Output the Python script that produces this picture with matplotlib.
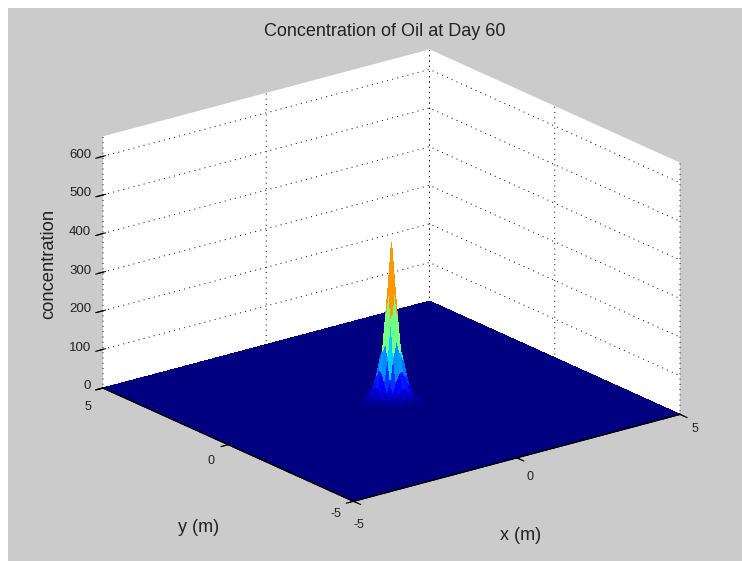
import numpy as np
import matplotlib
matplotlib.use("Agg")
import matplotlib.pyplot as plt
from matplotlib.patches import Rectangle
from matplotlib.transforms import ScaledTranslation
from mpl_toolkits.mplot3d import proj3d

plt.rcParams['font.family'] = ['Liberation Sans', 'DejaVu Sans']
plt.rcParams['axes.unicode_minus'] = False
plt.rcParams['grid.color'] = 'k'
plt.rcParams['grid.linestyle'] = (0, (1, 4.4))
plt.rcParams['grid.linewidth'] = 0.7

title = "Concentration of Oil at Day 60"
x_label = "x (m)"
y_label = "y (m)"
z_label = "concentration"
x_ticks = [-5, 0, 5]
y_ticks = [-5, 0, 5]
z_ticks = [0, 100, 200, 300, 400, 500, 600]
domain = [-5, 5]
z_limits = [0, 650]

# Concentration around the spill; rows y=-0.7..0.7, columns x=-0.7..0.7.
peak_offsets = [-.7, -.6, -.5, -.4, -.3, -.2, -.1, 0, .1, .2, .3, .4, .5, .6, .7]
peak_conc = [
    [0, 0, 0, 0, 0, 0, 0, 0, 0, 0, 0, 0, 0, 0, 0],
    [0, 0, 0, .2, .4, 1, 2, 4, 6, 5, 3, 2, 1, 0, 0],
    [0, 0, .3, 1, 2.5, 6, 10, 15, 20, 15, 10, 7, 5, 1, 0],
    [0, .2, 1, 3, 8, 17, 28, 40, 45, 35, 22, 15, 7, 2, 0],
    [0, .4, 2.5, 8, 18, 36, 62, 80, 85, 68, 45, 22, 10, 3, 0],
    [0, 1, 6, 17, 36, 65, 125, 165, 130, 110, 68, 35, 15, 5, 0],
    [0, 2, 10, 28, 62, 125, 220, 300, 225, 130, 85, 45, 20, 6, 0],
    [0, 4, 15, 40, 80, 165, 300, 412, 300, 165, 80, 40, 15, 4, 0],
    [0, 6, 20, 45, 85, 130, 225, 300, 220, 125, 62, 28, 10, 2, 0],
    [0, 5, 15, 35, 68, 110, 130, 165, 125, 65, 36, 17, 6, 1, 0],
    [0, 3, 10, 22, 45, 68, 85, 80, 62, 36, 18, 8, 2.5, .4, 0],
    [0, 2, 7, 15, 22, 35, 45, 40, 28, 17, 8, 3, 1, .2, 0],
    [0, 1, 5, 7, 10, 15, 20, 15, 10, 6, 2.5, 1, .3, 0, 0],
    [0, 0, 1, 2, 3, 5, 6, 4, 2, 1, .4, .2, 0, 0, 0],
    [0, 0, 0, 0, 0, 0, 0, 0, 0, 0, 0, 0, 0, 0, 0],
]

W, H = 742, 561
fig = plt.figure(figsize=(W / 100, H / 100), dpi=100, facecolor='white')
fig.add_artist(Rectangle((8 / W, 0), 1 - 8 / W, 1 - 8 / H, transform=fig.transFigure,
                         facecolor='#cbcbcb', edgecolor='none', zorder=-5))

grid_axis = np.linspace(domain[0], domain[1], 101)
X, Y = np.meshgrid(grid_axis, grid_axis)
Z = np.zeros_like(X)
i0 = int(np.argmin(np.abs(grid_axis - peak_offsets[0])))
table = np.array(peak_conc, dtype=float)
Z[i0:i0 + table.shape[0], i0:i0 + table.shape[1]] = table

ax = fig.add_axes([0.1, 0.1, 0.8, 0.8], projection='3d', proj_type='ortho')
ax.patch.set_visible(False)
ax.computed_zorder = False
ax.view_init(elev=20.3, azim=-127.5)
ax.set_xlim(*domain, view_margin=0)
ax.set_ylim(*domain, view_margin=0)
ax.set_zlim(*z_limits, view_margin=0)
ASPECT = (411.5, 411.5, 267.6)
ax.set_box_aspect(ASPECT)

surf = ax.plot_surface(X, Y, Z, rstride=1, cstride=1, cmap='jet', vmin=0, vmax=float(Z.max()),
                       linewidth=0, antialiased=False, shade=False, zorder=1)
surf.set_clip_on(False)

# The two front floor edges stay black on top of the surface.
x0, x1 = domain
line_style = dict(color='k', zorder=2, clip_on=False)
ax.plot(domain, [x0, x0], [0, 0], lw=1.0, **line_style)
ax.plot([x0, x0], domain, [0, 0], lw=1.0, **line_style)

# Short outward tick marks, as in the reference.
tick_len_x = 0.22
tick_len_y = 0.28
for t in x_ticks:
    ax.plot([t, t], [x0, x0 - tick_len_y], [0, 0], lw=0.8, **line_style)
for t in y_ticks:
    ax.plot([x0, x0 - tick_len_x], [t, t], [0, 0], lw=0.8, **line_style)
for t in z_ticks:
    ax.plot([x0, x0 - tick_len_x], [x1, x1], [t, t], lw=0.8, **line_style)

ax.set_xticks(x_ticks)
ax.set_yticks(y_ticks)
ax.set_zticks(z_ticks)
ax.tick_params(axis='x', labelsize=9, pad=0, colors='#222222', width=0.8)
ax.tick_params(axis='y', labelsize=9, pad=0, colors='#222222', width=0.8)
ax.tick_params(axis='z', labelsize=9.5, pad=-4, colors='#222222', width=0.8)
# Pixel nudges (right, down) of tick labels, one per tick.
x_nudges = [(-6, 12), (1, 8), (3, 3)]
y_nudges = [(-2, 3), (-2, 6), (0, 9)]
z_nudge = (2, 5)


def nudge_label(tick, ndx, ndy):
    offset = ScaledTranslation(ndx / 100, -ndy / 100, fig.dpi_scale_trans)
    tick.label1.set_transform(ax.transData + offset)
    # Axis3D puts plain transData back on every draw; keep the nudged one.
    tick.label1.set_transform = lambda _t: None


for axis, nudges in ((ax.xaxis, x_nudges), (ax.yaxis, y_nudges), (ax.zaxis, [z_nudge] * len(z_ticks))):
    axis.pane.set_facecolor('white')
    axis.pane.set_edgecolor('white')
    axis.pane.set_alpha(1)
    axis.line.set_color('k')
    axis.line.set_linewidth(0.9)
    for tick, (ndx, ndy) in zip(axis.get_major_ticks(), nudges):
        tick.label1.set_verticalalignment('bottom')
        nudge_label(tick, ndx, ndy)
for tick in ax.zaxis.get_major_ticks():
    tick.label1.set_horizontalalignment('right')
ax.zaxis.line.set_visible(False)

fig.canvas.draw()


def px(x, y, z):
    a, b, _ = proj3d.proj_transform(x, y, z, ax.get_proj())
    return ax.transData.transform((a, b))


# Scale and place the box so the floor corners fall where the reference has them.
left = px(-5, 5, 0)
right = px(5, -5, 0)
zoom = 577.0 / (right[0] - left[0])
ax.set_box_aspect(ASPECT, zoom=zoom)
fig.canvas.draw()
left = px(-5, 5, 0)
pos = ax.get_position()
dx = (103 - left[0]) / W
dy = ((H - 388) - left[1]) / H
ax.set_position([pos.x0 + dx, pos.y0 + dy, pos.width, pos.height])

fig.text(384.5 / W, 1 - 31 / H, title, ha='center', va='center', fontsize=13, color='#222222')
fig.text(49 / W, 1 - 264 / H, z_label, ha='center', va='center', rotation=90, fontsize=13.2, color='#222222')
fig.text(521 / W, 1 - 535 / H, x_label, ha='center', va='center', fontsize=13, color='#222222')
fig.text(198.5 / W, 1 - 528 / H, y_label, ha='center', va='center', fontsize=13, color='#222222')

fig.savefig('out.png', dpi=100, facecolor=fig.get_facecolor())
